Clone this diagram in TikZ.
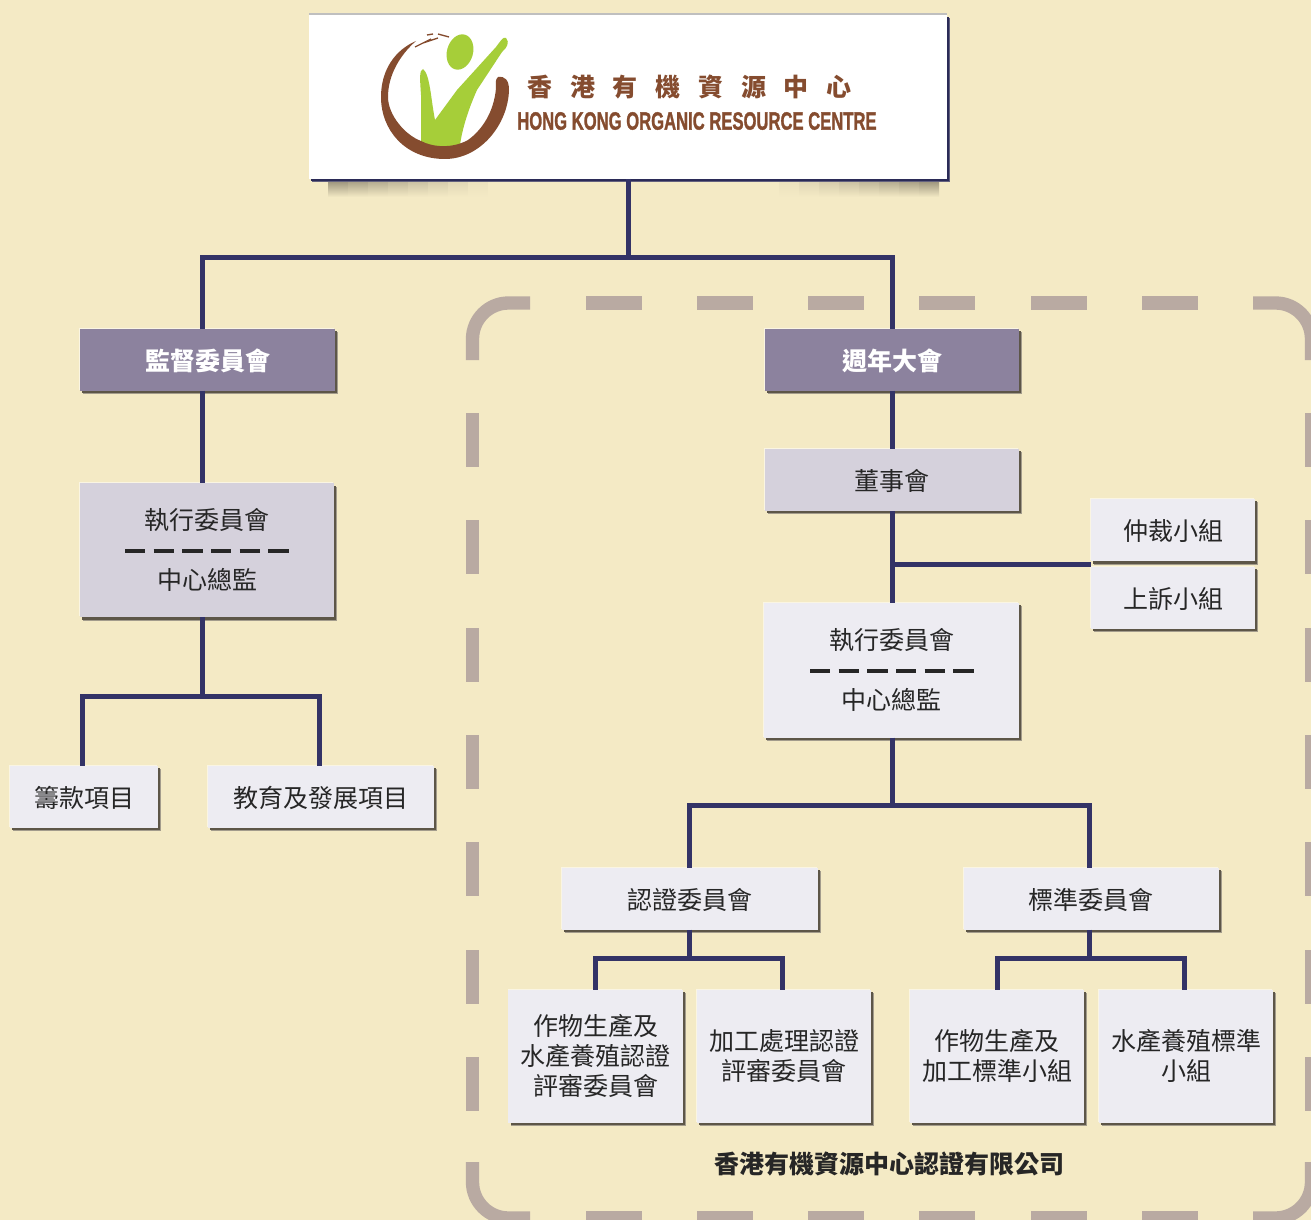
\documentclass[tikz,border=0pt]{standalone}
\usepackage{fontspec}
\usepackage{graphicx}
\setmainfont{Noto Sans CJK TC}
\newfontfamily\enfont[FakeBold=1.6]{Liberation Sans Bold}
\usetikzlibrary{shadows}
\definecolor{pagebg}{HTML}{F4EAC5}
\definecolor{linkblue}{HTML}{333366}
\definecolor{dashgrey}{HTML}{B9AAA2}
\definecolor{boxdark}{HTML}{8C829E}
\definecolor{boxmid}{HTML}{D5D1DC}
\definecolor{boxlight}{HTML}{EDECF2}
\definecolor{boxshadow}{HTML}{5D5648}
\definecolor{boxedge}{HTML}{A39C8C}
\definecolor{boxglow}{HTML}{FAF5E3}
\definecolor{logobrown}{HTML}{854C2F}
\definecolor{logogreen}{HTML}{A6CE39}
\tikzset{
  orgbox/.style={inner sep=0pt,outer sep=0pt,align=center,text=black!85,
    font=\fontsize{18.75}{22.5}\selectfont,
    general shadow={shadow xshift=-.7pt,shadow yshift=.7pt,fill=boxglow,opacity=1},
    general shadow={shadow xshift=2.2pt,shadow yshift=-2.4pt,fill=boxedge,opacity=1},
    general shadow={shadow xshift=1.6pt,shadow yshift=-1.8pt,fill=boxshadow,opacity=1}},
  oneline/.style={text height=20pt,text depth=4.2pt},
  darkbox/.style={orgbox,oneline,fill=boxdark,text=white,font=\fontsize{18.75}{22.5}\selectfont\bfseries},
  midbox/.style={orgbox,fill=boxmid},
  lightbox/.style={orgbox,fill=boxlight},
  link/.style={linkblue,line width=3.75pt},
  sepline/.style={black!85,line width=2.4pt,dash pattern=on 15.3pt off 6.2pt},
  bandmark/.style={dashgrey,line width=10pt}
}
\begin{document}
\begin{tikzpicture}[x=0.75pt,y=-0.75pt]
\useasboundingbox (0,0) rectangle (1311,1220);
\fill[pagebg] (0,0) rectangle (1311,1220);
\clip (0,0) rectangle (1311,1220);
% dashed band
\foreach \x in {586,697,808,919,1031,1142} {
  \draw[bandmark] (\x,303) -- +(55.5,0);
  \draw[bandmark] (\x,1218) -- +(55.5,0);
}
\foreach \y in {413,520,628,735,842,950,1057} {
  \draw[bandmark] (472.5,\y) -- +(0,53.5);
  \draw[bandmark] (1311.5,\y) -- +(0,53.5);
}
\draw[bandmark,rounded corners=27pt] (472.5,360) -- (472.5,303) -- (530,303);
\draw[bandmark,rounded corners=27pt] (1253,303) -- (1311.5,303) -- (1311.5,360);
\draw[bandmark,rounded corners=27pt] (472.5,1162) -- (472.5,1218) -- (530,1218);
\draw[bandmark,rounded corners=27pt] (1253,1218) -- (1311.5,1218) -- (1311.5,1162);
% blurred reflection under the title box
\foreach \i in {0,...,11} {
  \pgfmathsetmacro{\mixval}{max(0,62-8*\i)}
  \shade[top color=boxshadow!\mixval!pagebg,bottom color=pagebg] (328+20*\i,180) rectangle (349+20*\i,197);
  \shade[top color=boxshadow!\mixval!pagebg,bottom color=pagebg] (939-20*\i,180) rectangle (918-20*\i,197);
}
% boxes
\node[inner sep=0pt,outer sep=0pt,fill=white,minimum width=478.5pt,minimum height=123pt,
  general shadow={shadow xshift=0pt,shadow yshift=1.2pt,fill=black!25,opacity=1},
  general shadow={shadow xshift=1.9pt,shadow yshift=-1.9pt,fill=linkblue!75!pagebg,opacity=1},
  general shadow={shadow xshift=1.2pt,shadow yshift=-1.4pt,fill=linkblue!85!black,opacity=1}] (root) at (628,97) {};
\node[darkbox,minimum width=191pt,minimum height=46.5pt] (audit) at (207.5,359.5) {監督委員會};
\node[darkbox,minimum width=190.5pt,minimum height=46.5pt] (agm) at (892,359.5) {週年大會};
\node[midbox,oneline,minimum width=190.5pt,minimum height=46.5pt] (board) at (892,480) {董事會};
\node[midbox,minimum width=190.5pt,minimum height=100.5pt] (execL) at (207,550.3) {執行委員會\\[22.5pt]中心總監};
\node[lightbox,oneline,minimum width=123pt,minimum height=47pt] (arbit) at (1173,530) {仲裁小組};
\node[lightbox,oneline,minimum width=123pt,minimum height=46.5pt] (appeal) at (1173,598) {上訴小組};
\node[lightbox,minimum width=191pt,minimum height=101pt] (execR) at (891.5,670.3) {執行委員會\\[22.5pt]中心總監};
\node[lightbox,oneline,minimum width=111pt,minimum height=46.5pt] (fund) at (84,796.5) {籌款項目};
\node[lightbox,oneline,minimum width=169.5pt,minimum height=46.5pt] (edu) at (321.3,796.5) {教育及發展項目};
\node[lightbox,oneline,minimum width=192pt,minimum height=46.5pt] (cert) at (689.7,898.5) {認證委員會};
\node[lightbox,oneline,minimum width=191.5pt,minimum height=46.5pt] (std) at (1091.3,898.5) {標準委員會};
\node[lightbox,minimum width=131pt,minimum height=99.75pt] (certA) at (595.8,1056) {作物生產及\\水產養殖認證\\評審委員會};
\node[lightbox,minimum width=130.5pt,minimum height=99.75pt] (certB) at (784.3,1056) {加工處理認證\\評審委員會};
\node[lightbox,minimum width=130.5pt,minimum height=99.75pt] (stdA) at (997.2,1056) {作物生產及\\加工標準小組};
\node[lightbox,minimum width=130.5pt,minimum height=99.75pt] (stdB) at (1186.2,1056) {水產養殖標準\\小組};
\node[text=black!85,font=\fontsize{18.75}{22.5}\selectfont\bfseries] (company) at (889,1164) {香港有機資源中心認證有限公司};
% connectors
\coordinate (topbus) at (628,257.5);
\coordinate (auditin) at (202,329);
\coordinate (execLbus) at (202,696);
\coordinate (execRbus) at (892,805);
\coordinate (certbus) at (689.5,958);
\coordinate (stdbus) at (1089,958);
\coordinate (arbitjoin) at (892,564);
\draw[link] (root.south) -- (topbus);
\draw[link] (auditin) |- (topbus) -| (agm.north);
\draw[link] (audit.south -| auditin) -- (execL.north -| auditin);
\draw[link] (execL.south -| auditin) -- (execLbus);
\draw[link] (fund.north -| 82.5,0) |- (execLbus) -| (edu.north -| 319.5,0);
\draw[link] (agm.south) -- (board.north);
\draw[link] (board.south) -- (execR.north -| board);
\draw[link] (arbitjoin) -- (arbitjoin -| arbit.west);
\draw[link] (execR.south -| board) -- (execRbus);
\draw[link] (cert.north -| certbus) |- (execRbus) -| (std.north -| stdbus);
\draw[link] (cert.south -| certbus) -- (certbus);
\draw[link] (certA.north -| 595.5,0) |- (certbus) -| (certB.north -| 782.5,0);
\draw[link] (std.south -| stdbus) -- (stdbus);
\draw[link] (stdA.north -| 997,0) |- (stdbus) -| (stdB.north -| 1184.5,0);
% dashes inside the two executive boxes
\draw[sepline] (125,551) -- (289,551);
\draw[sepline] (810,671) -- (974,671);
% logo
\fill[logogreen] (423,69) .. controls (419,70) and (420,80) .. (421,95) -- (421,142)
  .. controls (432,147) and (452,149) .. (460,145) .. controls (462,130) and (468,110) .. (477,90)
  -- (502,52) .. controls (507,48) and (510,42) .. (506,38) .. controls (503,36) and (500,42) .. (496,47)
  -- (457,90) -- (435,120) .. controls (431,100) and (430,74) .. (423,69) -- cycle;
\fill[logogreen,rotate around={-16:(460,52)}] (460,52) ellipse (13 and 18);
\fill[logobrown] (498,77) .. controls (505,76) and (509,80) .. (509,90)
  .. controls (508,125) and (480,159) .. (445,159)
  .. controls (405,159) and (381,130) .. (381,97)
  .. controls (381,70) and (395,50) .. (416,41)
  .. controls (400,55) and (388,75) .. (388,97)
  .. controls (388,115) and (405,135) .. (421,141)
  .. controls (432,147) and (452,149) .. (468,140)
  .. controls (482,130) and (494,112) .. (496,88)
  .. controls (496,82) and (495,80) .. (498,77) -- cycle;
\draw[logobrown,line width=1pt] (415,47) -- (431,39) (423,43) -- (438,38) (427,35) -- (433,34) (438,34) -- (449,37);
\node[anchor=west,inner sep=0pt,text=logobrown,
  font=\fontsize{18.75}{22.5}\selectfont\bfseries\addfontfeature{LetterSpace=71}] (logozh) at (527,87) {香港有機資源中心};
\node[anchor=west,inner sep=0pt,text=logobrown] (logoen) at (517,121)
  {\scalebox{.665}[1]{\fontsize{18.75}{22.5}\selectfont\enfont HONG KONG ORGANIC RESOURCE CENTRE}};
\end{tikzpicture}
\end{document}
